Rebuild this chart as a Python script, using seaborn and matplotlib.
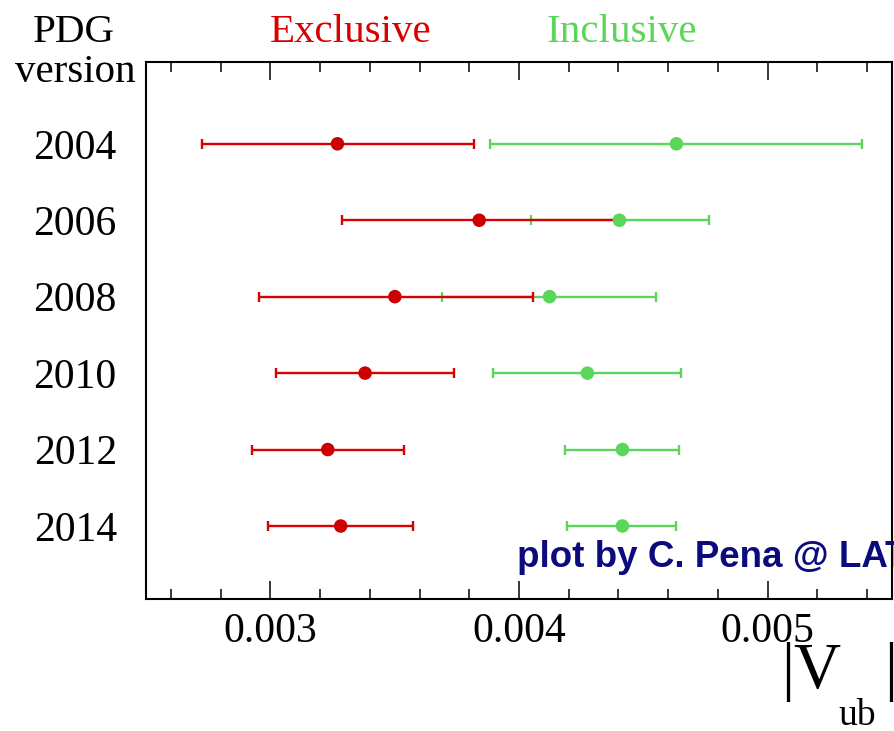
import matplotlib
matplotlib.use("Agg")
import matplotlib.pyplot as plt
from matplotlib.ticker import MultipleLocator
import seaborn as sns
import pandas as pd
import numpy as np

# ---- data (|V_ub|) ----
years = ["2004", "2006", "2008", "2010", "2012", "2014"]
excl_val = [0.003270, 0.003840, 0.003501, 0.003381, 0.003231, 0.003283]
excl_lo = [0.002726, 0.003289, 0.002954, 0.003023, 0.002925, 0.002992]
excl_hi = [0.003820, 0.004392, 0.004057, 0.003738, 0.003539, 0.003572]
incl_val = [0.004633, 0.004404, 0.004123, 0.004275, 0.004416, 0.004416]
incl_lo = [0.003882, 0.004050, 0.003692, 0.003894, 0.004186, 0.004194]
incl_hi = [0.005380, 0.004764, 0.004552, 0.004650, 0.004643, 0.004633]
xticks = [0.003, 0.004, 0.005]
xticklabels = ["0.003", "0.004", "0.005"]

RED = "#d80000"
RED_M = "#cc0000"
GREEN = "#5ad65a"
NAVY = "#0b0b7d"

sns.set_theme(style="white")
plt.rcParams["font.family"] = ["Liberation Serif", "DejaVu Serif"]

W, H = 895, 731
fig = plt.figure(figsize=(W / 100, H / 100), dpi=100)
ax = fig.add_axes([146 / W, 1 - 599 / H, (892 - 146) / W, (599 - 62) / H])

df = pd.DataFrame({
    "year": years * 2,
    "value": excl_val + incl_val,
    "lo": excl_lo + incl_lo,
    "hi": excl_hi + incl_hi,
    "kind": ["Exclusive"] * len(years) + ["Inclusive"] * len(years),
})

# error bars (inclusive first, exclusive on top)
for kind, col in [("Inclusive", GREEN), ("Exclusive", RED)]:
    d = df[df.kind == kind]
    err = np.vstack([d.value - d.lo, d.hi - d.value])
    ax.errorbar(d.value, d.year, xerr=err, fmt="none", ecolor=col,
                elinewidth=1.7, capsize=3.6, capthick=1.7, zorder=2)

sns.scatterplot(data=df, x="value", y="year", hue="kind",
                palette={"Exclusive": RED_M, "Inclusive": GREEN},
                s=95, edgecolor="none", legend=False, ax=ax, zorder=3)

ax.set_xlim(0.0025, 0.0055)
ax.set_ylim(5.955, -1.07)
ax.set_xlabel("")
ax.set_ylabel("")

ax.set_xticks(xticks)
ax.set_xticklabels(xticklabels)
ax.xaxis.set_minor_locator(MultipleLocator(0.0002))
ax.tick_params(axis="x", which="both", direction="in", top=True, bottom=True,
               colors="black", labelsize=30, pad=10)
ax.tick_params(axis="x", which="major", length=13, width=1.1)
ax.tick_params(axis="x", which="minor", length=7, width=1.1)
ax.tick_params(axis="y", length=0, labelsize=30, pad=21, colors="black")
for t in ax.get_xticklabels() + ax.get_yticklabels():
    t.set_color("black")

for s in ax.spines.values():
    s.set_visible(True)
    s.set_color("black")
    s.set_linewidth(1.5)
ax.grid(False)
ax.set_facecolor("white")

def fy(ypx):
    return 1 - ypx / H

fig.text(74 / W, fy(42), "PDG", ha="center", va="baseline", fontsize=29.5, color="black")
fig.text(75 / W, fy(82), "version", ha="center", va="baseline", fontsize=29.5, color="black")
fig.text(351 / W, fy(42), "Exclusive", ha="center", va="baseline", fontsize=29.5, color=RED)
fig.text(622 / W, fy(42), "Inclusive", ha="center", va="baseline", fontsize=29.5, color=GREEN)

# credit line (runs past the right edge, as in the original)
fig.text(517 / W, fy(567), "plot by C. Pena @ LAT", ha="left", va="baseline",
         fontsize=26.5, fontweight="bold", color=NAVY,
         family=["Liberation Sans", "DejaVu Sans"])

fig.text(781 / W, fy(688), "|V", ha="left", va="baseline", fontsize=47, color="black")
fig.text(838 / W, fy(725), "ub", ha="left", va="baseline", fontsize=27, color="black")
fig.text(884 / W, fy(688), "|", ha="left", va="baseline", fontsize=47, color="black")

fig.savefig("out.png", dpi=100, facecolor="white")
